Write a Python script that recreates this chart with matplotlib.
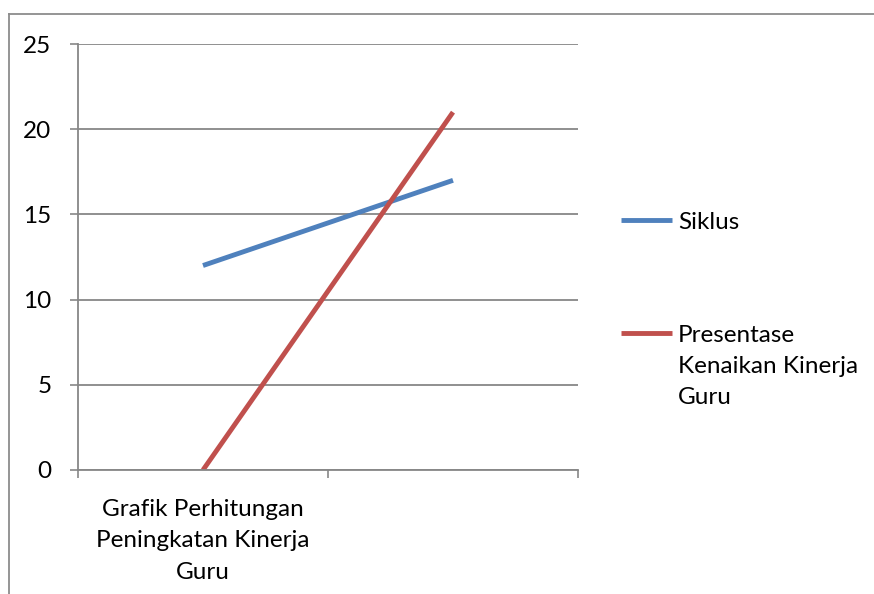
import matplotlib
matplotlib.use("Agg")
import matplotlib.pyplot as plt
from matplotlib.lines import Line2D

categories = ["Grafik Perhitungan\nPeningkatan Kinerja\nGuru", ""]
siklus = [12, 17]
presentase = [0, 21]
series_names = ["Siklus", "Presentase\nKenaikan Kinerja\nGuru"]
yticks = [0, 5, 10, 15, 20, 25]

BLUE = "#4F81BD"
RED = "#C0504D"
GRID = "#878787"
FONT = "Lato"
FS = 17.5
LS = 1.6

plt.rcParams['font.family'] = [FONT, 'DejaVu Sans']

W, H = 874, 594
fig = plt.figure(figsize=(W / 100, H / 100), dpi=100)
ax = fig.add_axes([78 / W, (H - 470) / H, 500 / W, 426 / H])

x = list(range(len(categories)))
ax.plot(x, siklus, color=BLUE, lw=3.5, solid_capstyle='butt')
ax.plot(x, presentase, color=RED, lw=3.5, solid_capstyle='butt')

ax.set_xlim(-0.5, len(categories) - 0.5)
ax.set_ylim(0, 25)
ax.set_yticks(yticks)
ax.set_yticklabels([str(v) for v in yticks], fontsize=FS)
ax.set_xticks(x)
ax.set_xticklabels(categories, fontsize=FS, linespacing=LS)
ax.set_xticks([i - 0.5 for i in range(len(categories) + 1)], minor=True)
ax.tick_params(axis='x', which='major', length=0, pad=21)
ax.tick_params(axis='x', which='minor', length=6, width=1.2, color=GRID, direction='out')
ax.tick_params(axis='y', length=6, width=1.2, color=GRID, direction='out', pad=13)
ax.grid(axis='y', color=GRID, lw=1.3)
ax.set_axisbelow(True)
for s in ['top', 'right']:
    ax.spines[s].set_visible(False)
for s in ['left', 'bottom']:
    ax.spines[s].set_color(GRID)
    ax.spines[s].set_linewidth(1.3)

# legend drawn manually (Excel style)
def fx(px):
    return px / W

def fy(py):
    return (H - py) / H

for color, name, ly in [(BLUE, series_names[0], 220), (RED, series_names[1], 333)]:
    fig.add_artist(Line2D([fx(621), fx(672)], [fy(ly), fy(ly)], color=color, lw=3.5,
                          transform=fig.transFigure, solid_capstyle='butt'))
    fig.text(fx(678), fy(ly - 8), name, fontsize=FS, va='top', ha='left',
             linespacing=LS)

# outer chart border (cropped at right and bottom)
fig.add_artist(Line2D([fx(9), fx(9)], [0, fy(14)], color="#8C8C8C", lw=1.3,
                      transform=fig.transFigure))
fig.add_artist(Line2D([fx(9), 1], [fy(14), fy(14)], color="#8C8C8C", lw=1.3,
                      transform=fig.transFigure))

fig.savefig("out.png", dpi=100)
